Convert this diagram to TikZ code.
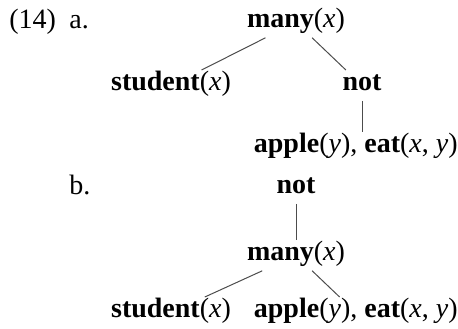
\documentclass[tikz,border=0pt]{standalone}
\usepackage{fontspec}
\setmainfont{Liberation Serif}
\begin{document}
\begin{tikzpicture}[x=0.5pt, y=-0.5pt,
  every node/.style={font=\fontsize{14pt}{17pt}\selectfont},
  term/.style={anchor=base, inner sep=3pt, text height=0.68em, text depth=0.22em},
  branch/.style={draw=black!70, line width=0.5pt}]
\useasboundingbox (0,0) rectangle (458,328);
\node[anchor=base west, inner sep=0pt] (num) at (9,28) {(14)};
\node[anchor=base west, inner sep=0pt] (la) at (69,28) {a.};
\node[anchor=base west, inner sep=0pt] (lb) at (69,194) {b.};
\node[term] (manya) at (296,27) {\textbf{many}(\textit{x})};
\node[term] (studa) at (171,90) {\textbf{student}(\textit{x})};
\node[term] (nota) at (362,90) {\textbf{not}};
\node[term, anchor=base east] (appa) at (464,152) {\textbf{apple}(\textit{y}), \textbf{eat}(\textit{x}, \textit{y})};
\node[term] (notb) at (296,193) {\textbf{not}};
\node[term] (manyb) at (296,260) {\textbf{many}(\textit{x})};
\node[term] (studb) at (171,317) {\textbf{student}(\textit{x})};
\node[term, anchor=base east] (appb) at (464,317) {\textbf{apple}(\textit{y}), \textbf{eat}(\textit{x}, \textit{y})};
\draw[branch] (manya) -- (studa);
\draw[branch] (manya) -- (nota);
\draw[branch] (nota) -- (nota |- appa.north);
\draw[branch] (notb) -- (manyb);
\draw[branch] (manyb) -- (studb);
\draw[branch] (manyb) -- (appb);
\end{tikzpicture}
\end{document}
